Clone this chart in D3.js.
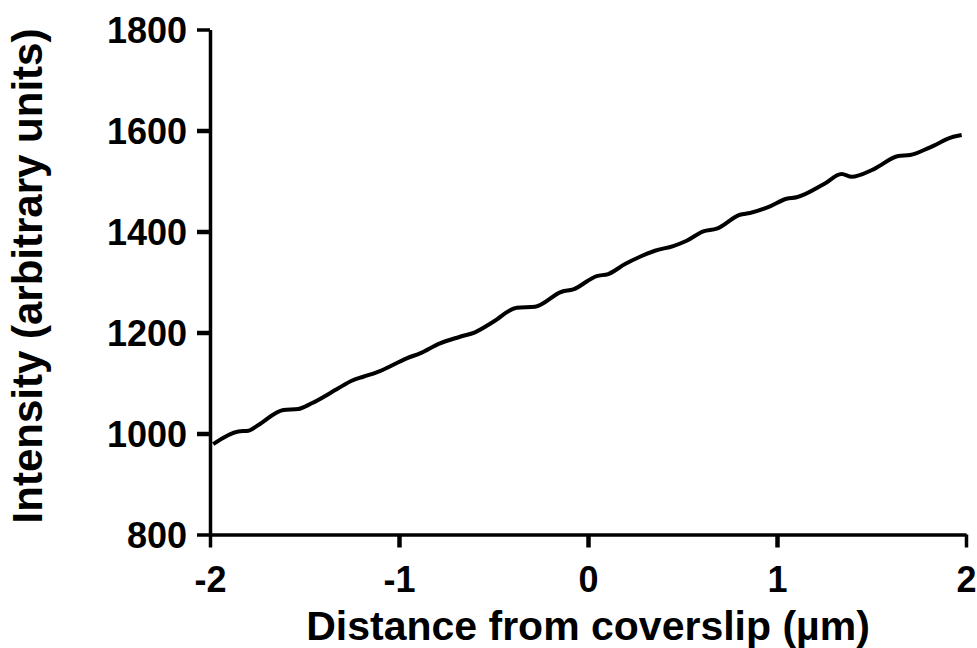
<!DOCTYPE html>
<html>
<head>
<meta charset="utf-8">
<script src="https://cdn.jsdelivr.net/npm/d3@7"></script>
<style>
  html, body { margin: 0; padding: 0; background: #fff; }
  svg { display: block; }
  text { font-family: "Liberation Sans", Arial, sans-serif; font-weight: bold; fill: #000; }
</style>
</head>
<body>
<svg id="chart" width="977" height="648"></svg>
<script>
// Data
const distance = [-1.983, -1.850, -1.797, -1.744, -1.612, -1.533, -1.462, -1.321, -1.250, -1.189,
  -1.101, -0.959, -0.889, -0.783, -0.677, -0.598, -0.501, -0.377, -0.280, -0.139,
  -0.078, 0.046, 0.107, 0.196, 0.275, 0.354, 0.451, 0.522, 0.610, 0.681,
  0.804, 0.857, 0.963, 1.051, 1.104, 1.249, 1.342, 1.395, 1.510, 1.642,
  1.704, 1.810, 1.933, 1.977];
const intensity = [979, 1004, 1005.5, 1016.8, 1046.5, 1048.5, 1059.8, 1089.5, 1104.5, 1112.4,
  1123.7, 1148.9, 1158.8, 1178.6, 1191.6, 1200.4, 1221.3, 1249.1, 1251, 1280.7,
  1285.5, 1311.8, 1315.8, 1335.6, 1350, 1361.9, 1371.2, 1381.7, 1400.3, 1405.5,
  1433.2, 1436.6, 1449.8, 1464.9, 1467.7, 1494, 1513.8, 1508.4, 1523.1, 1549.4,
  1551.4, 1566.7, 1587.6, 1591];
const xTicks = [-2, -1, 0, 1, 2];
const yTicks = [800, 1000, 1200, 1400, 1600, 1800];
const xTitle = "Distance from coverslip (µm)";
const yTitle = "Intensity (arbitrary units)";

const svg = d3.select("#chart");
const plotLeft = 210, plotRight = 966, plotTop = 29.5, plotBottom = 534.5;

const x = d3.scaleLinear().domain([-2, 2]).range([plotLeft, plotRight]);
const y = d3.scaleLinear().domain([800, 1800]).range([plotBottom, plotTop]);

const data = distance.map((d, i) => ({ x: d, y: intensity[i] }));

// Axes
const xAxis = d3.axisBottom(x).tickValues(xTicks).tickSize(13).tickSizeOuter(0)
  .tickPadding(8).tickFormat(d => String(d));
const yAxis = d3.axisLeft(y).tickValues(yTicks).tickSize(13).tickSizeOuter(0)
  .tickPadding(10).tickFormat(d => String(d));

const gx = svg.append("g").attr("transform", `translate(0,${plotBottom})`).call(xAxis);
const gy = svg.append("g").attr("transform", `translate(${plotLeft},0)`).call(yAxis);

[gx, gy].forEach(g => {
  g.select(".domain").attr("stroke", "#000").attr("stroke-width", 3.5);
  g.selectAll(".tick line").attr("stroke", "#000").attr("stroke-width", 4.5);
  g.selectAll(".tick text").style("font-size", "36px").attr("fill", "#000");
});
gx.selectAll(".tick text").attr("dy", null).attr("y", 57);
gy.selectAll(".tick text").attr("dy", "0.36em");
gx.selectAll(".tick").filter(d => d === -2 || d === 2).select("line").attr("stroke-width", 3.5);
gy.selectAll(".tick").filter(d => d === 800 || d === 1800).select("line").attr("stroke-width", 3.5);

// Line
const line = d3.line().x(d => x(d.x)).y(d => y(d.y)).curve(d3.curveMonotoneX);
svg.append("path").datum(data)
  .attr("d", line)
  .attr("fill", "none")
  .attr("stroke", "#000")
  .attr("stroke-width", 4)
  .attr("stroke-linejoin", "round")
  .attr("stroke-linecap", "butt");

// Titles
svg.append("text")
  .attr("x", (plotLeft + plotRight) / 2)
  .attr("y", 640)
  .attr("text-anchor", "middle")
  .style("font-size", "41px")
  .text(xTitle);

svg.append("text")
  .attr("transform", `translate(42,${(plotTop + plotBottom) / 2 - 6}) rotate(-90)`)
  .attr("text-anchor", "middle")
  .style("font-size", "42px")
  .text(yTitle);
</script>
</body>
</html>
